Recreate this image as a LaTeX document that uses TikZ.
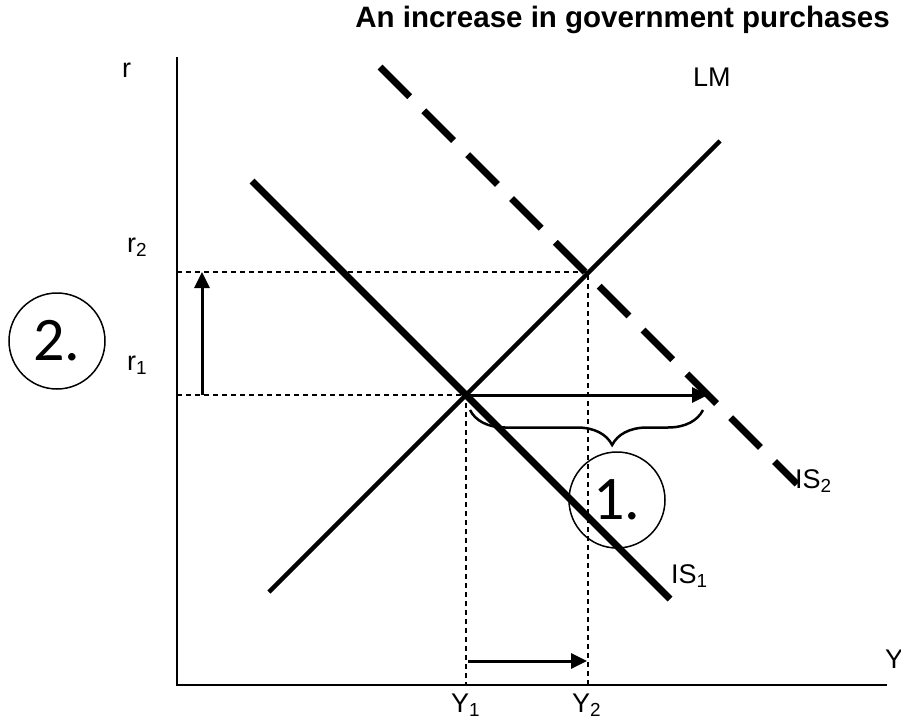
\documentclass[tikz,border=0pt]{standalone}
\usepackage{fontspec}
\setmainfont{Liberation Sans}
\newfontfamily\numfont{Carlito}
\usetikzlibrary{arrows.meta,decorations.pathreplacing}

\begin{document}
\begin{tikzpicture}[
  x=1pt, y=-1pt,
  font=\fontsize{27}{31}\selectfont,
  axis/.style={line width=2pt},
  guide/.style={line width=1.4pt, dash pattern=on 5pt off 4pt},
  lmcurve/.style={line width=4.5pt},
  iscurve/.style={line width=7pt},
  shifted/.style={line width=7pt, dash pattern=on 42pt off 20pt},
  move/.style={line width=3pt, -{Triangle[length=16pt,width=15pt]}},
  lbl/.style={inner sep=0pt, anchor=base west},
  numcircle/.style={draw, circle, line width=1.5pt, minimum size=96pt, inner sep=0pt, font=\numfont\fontsize{62}{62}\selectfont}
]
\useasboundingbox (0,0) rectangle (901,719);

% axes
\coordinate (origin) at (177,685);
\coordinate (rtop) at (177,57);
\coordinate (yend) at (887,685);
\draw[axis] (rtop) -- (origin) -- (yend);
\node[lbl] (rlabel) at (122,78) {r};
\node[lbl] (ylabel) at (885,668) {Y};

% equilibria
\coordinate (eqone) at (466,395);
\coordinate (eqtwo) at (588,272);
\coordinate (rone) at (177,395);
\coordinate (rtwo) at (177,272);
\coordinate (yone) at (466,685);
\coordinate (ytwo) at (588,685);
\draw[guide] (rtwo) -- (eqtwo) -- (ytwo);
\draw[guide] (rone) -- (eqone) -- (yone);

% curves
\coordinate (lmlow) at (269,592);
\coordinate (lmhigh) at (720,141);
\coordinate (isonetop) at (252,181);
\coordinate (isonelow) at (670,599);
\coordinate (istwotop) at (380,67);
\coordinate (istwolow) at (797,484);
\draw[lmcurve] (lmlow) -- (lmhigh);
\draw[iscurve] (isonetop) -- (isonelow);
\draw[shifted] (istwotop) -- (istwolow);
\node[lbl] (lmlabel) at (693,87) {LM};
\node[lbl] (isonelabel) at (671,583) {IS\textsubscript{1}};
\node[lbl] (istwolabel) at (795,488) {IS\textsubscript{2}};

% axis values
\node[lbl] (rtwolabel) at (127,252) {r\textsubscript{2}};
\node[lbl] (ronelabel) at (127,370) {r\textsubscript{1}};
\node[lbl] (yonelabel) at (451,712) {Y\textsubscript{1}};
\node[lbl] (ytwolabel) at (572,712) {Y\textsubscript{2}};

% shifts
\coordinate (rise) at (202,395);
\coordinate (risetop) at (202,272);
\coordinate (shifttip) at (708,395);
\coordinate (outstart) at (468,661);
\coordinate (outtip) at (587,661);
\draw[move] (rise) -- (risetop);
\draw[move] (eqone) -- (shifttip);
\draw[move] (outstart) -- (outtip);
\coordinate (braceleft) at (470,410);
\coordinate (braceright) at (703,410);
\draw[line width=2.5pt, decorate, decoration={brace, mirror, amplitude=35pt, aspect=0.61}] (braceleft) -- (braceright);

\node[numcircle] (stepone) at (617,500) {1.};
\node[numcircle] (steptwo) at (57,341) {2.};

\node[font=\bfseries\fontsize{29.5}{34}\selectfont, anchor=base east, inner sep=0pt] (title) at (890,28) {An increase in government purchases};
\end{tikzpicture}
\end{document}
